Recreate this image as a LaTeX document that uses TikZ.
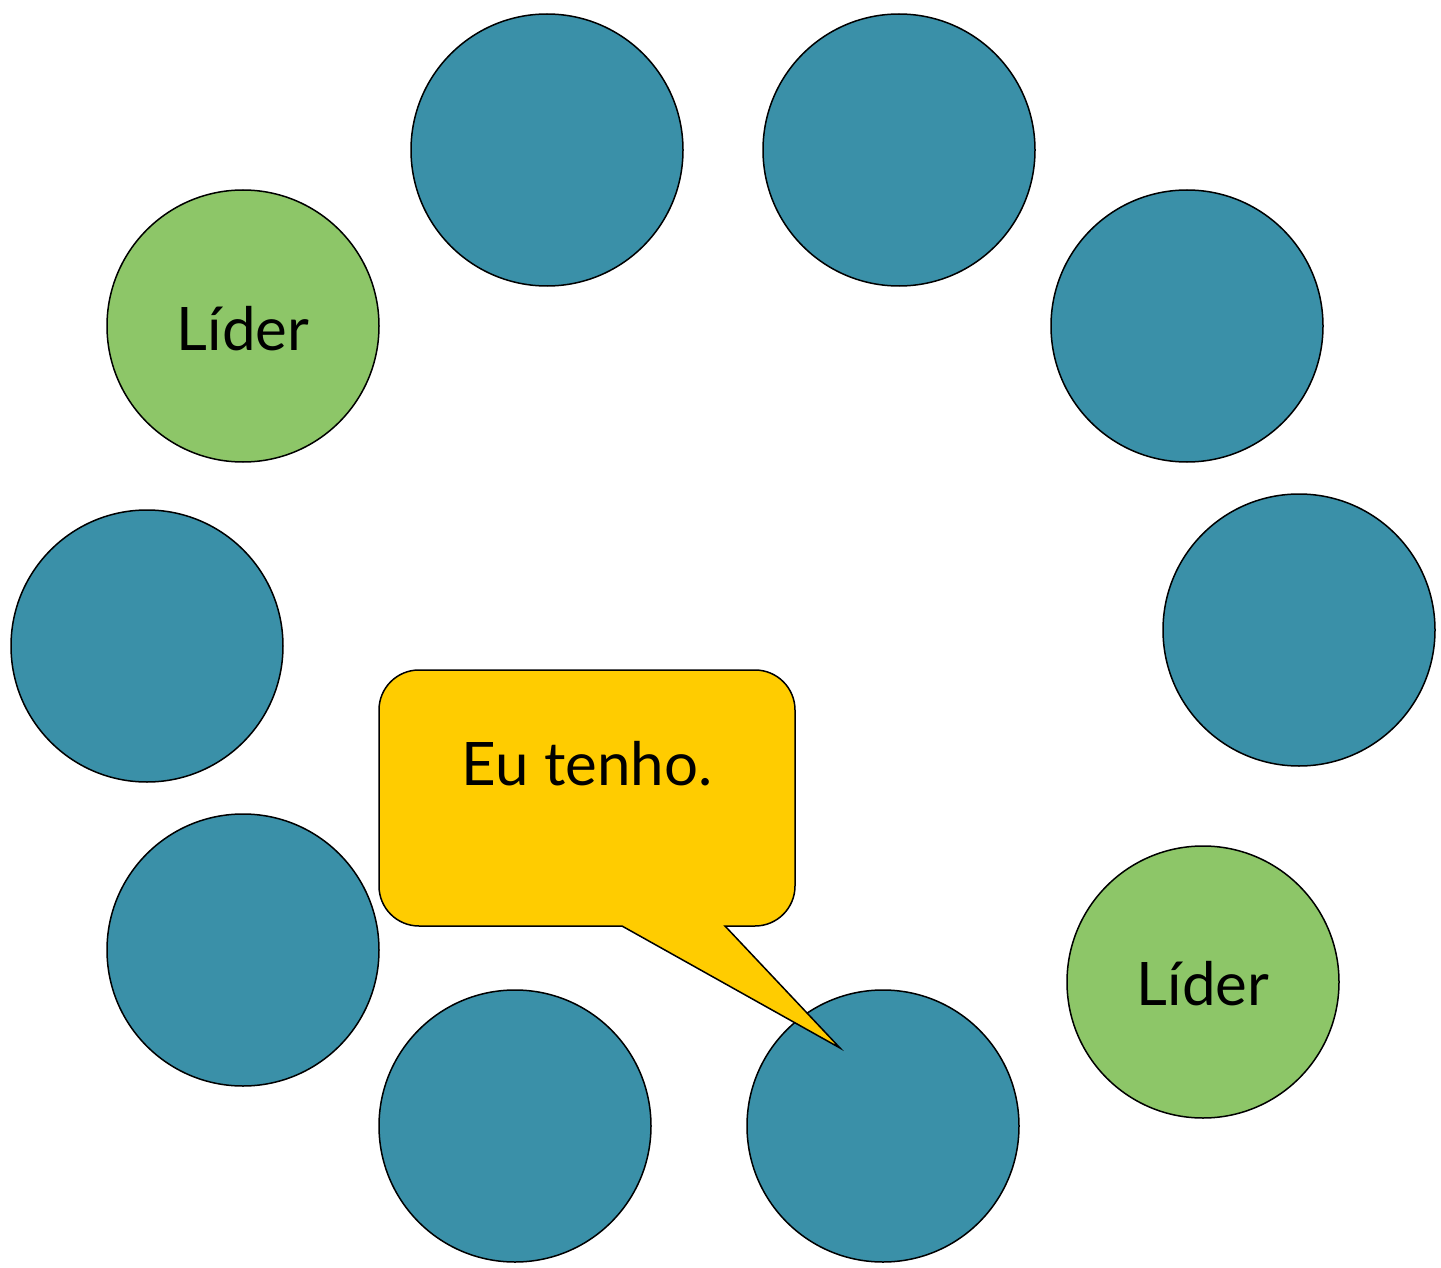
\documentclass[tikz,border=0pt]{standalone}
\usepackage{fontspec}
\setmainfont{Lato}
\definecolor{teal}{RGB}{58,144,168}
\definecolor{leaf}{RGB}{141,198,104}
\definecolor{gold}{RGB}{255,204,0}
\tikzset{
  seat/.style={circle, draw=black, line width=1.5pt, fill=teal, minimum size=272pt, inner sep=0pt},
  leader/.style={seat, fill=leaf},
  lbl/.style={font=\fontsize{60}{72}\selectfont, inner sep=0pt, anchor=base}
}
\begin{document}
\begin{tikzpicture}[x=1pt,y=-1pt]
\useasboundingbox (0,0) rectangle (1441,1268);
\node[seat]   (c1)  at (547,150)  {};
\node[seat]   (c2)  at (899,150)  {};
\node[seat]   (c3)  at (1187,326) {};
\node[seat]   (c4)  at (1299,630) {};
\node[leader] (c5)  at (1203,982) {};
\node[seat]   (c6)  at (883,1126) {};
\node[seat]   (c7)  at (515,1126) {};
\node[seat]   (c8)  at (243,950)  {};
\node[seat]   (c9)  at (147,646)  {};
\node[leader] (c10) at (243,326)  {};
\node[lbl] (t10) at (243,350) {Líder};
\node[lbl] (t5)  at (1203,1005) {Líder};
\draw[fill=gold, line width=1.5pt, line join=miter]
  (622,926) -- (840,1048) -- (725,926) -- (755,926)
  arc[start angle=90, end angle=0, radius=40] -- (795,710)
  arc[start angle=0, end angle=-90, radius=40] -- (419,670)
  arc[start angle=-90, end angle=-180, radius=40] -- (379,886)
  arc[start angle=180, end angle=90, radius=40] -- cycle;
\node[lbl] (say) at (587,785) {Eu tenho.};
\end{tikzpicture}
\end{document}
